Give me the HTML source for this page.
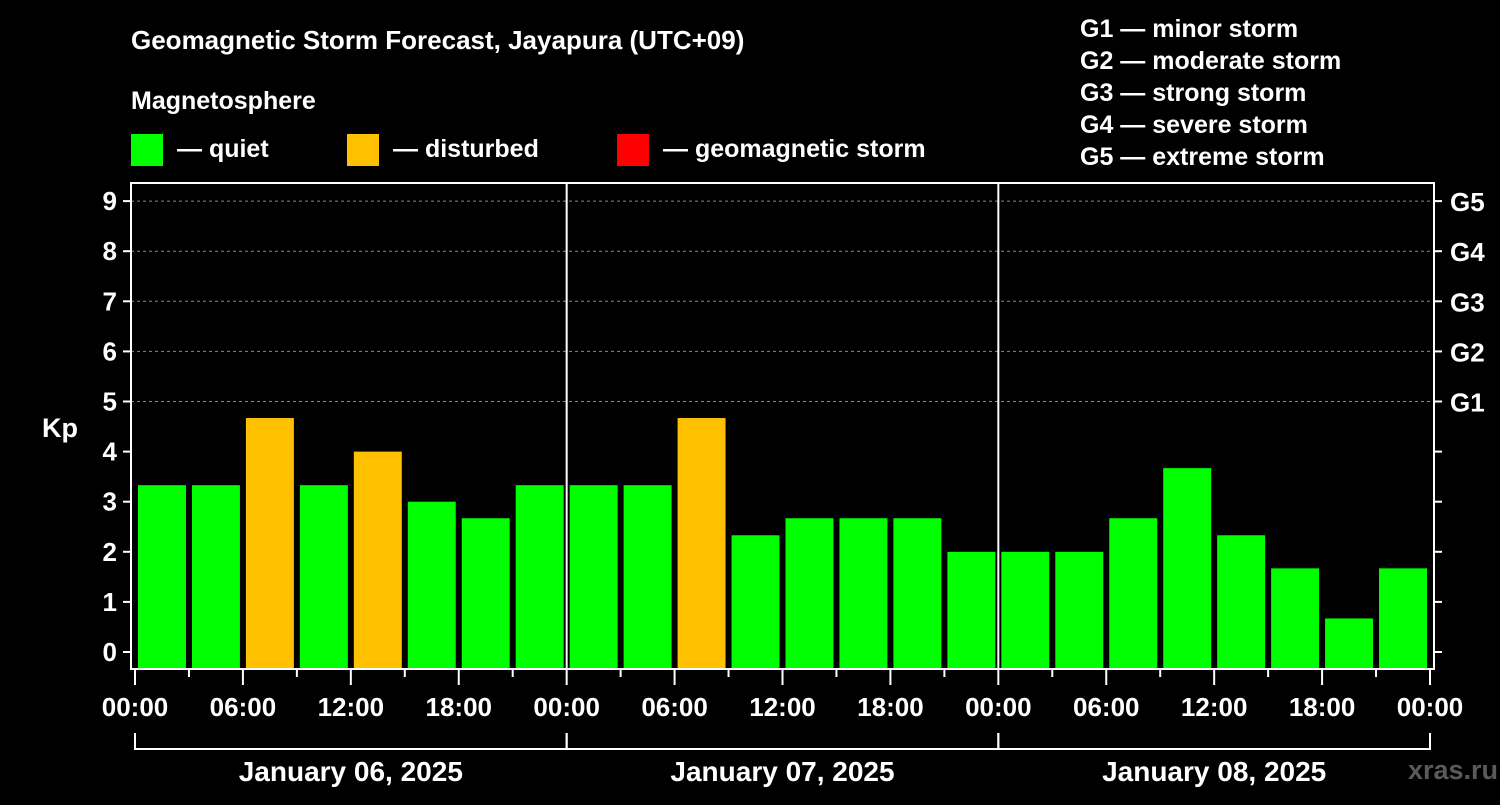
<!DOCTYPE html>
<html><head><meta charset="utf-8"><style>
body{margin:0;background:#000;width:1500px;height:800px;overflow:hidden;font-family:"Liberation Sans",sans-serif}
svg text{font-family:"Liberation Sans",sans-serif;font-weight:bold;fill:#fff}
</style></head><body>
<svg id="c" width="1500" height="800">
<text x="131" y="49" font-size="26">Geomagnetic Storm Forecast, Jayapura (UTC+09)</text>
<text x="131" y="109" font-size="25">Magnetosphere</text>
<g><rect x="131" y="134" width="32" height="32" fill="#00ff00"/><text x="177" y="157" font-size="25">— quiet</text></g>
<g><rect x="347" y="134" width="32" height="32" fill="#ffc000"/><text x="393" y="157" font-size="25">— disturbed</text></g>
<g><rect x="617" y="134" width="32" height="32" fill="#ff0000"/><text x="663" y="157" font-size="25">— geomagnetic storm</text></g>
<g font-size="25">
<text x="1080" y="37">G1 — minor storm</text><text x="1080" y="69">G2 — moderate storm</text><text x="1080" y="101">G3 — strong storm</text><text x="1080" y="133">G4 — severe storm</text><text x="1080" y="165">G5 — extreme storm</text></g>
<text x="42" y="437" font-size="27">Kp</text>
<text x="1498" y="779" font-size="27" text-anchor="end" fill="#555" style="fill:#5a5a5a">xras.ru</text>
<g id="grid"></g><g id="bars"></g><g id="axes"></g>
</svg>
<script>
const kpValues=[3.33,3.33,4.67,3.33,4,3,2.67,3.33, 3.33,3.33,4.67,2.33,2.67,2.67,2.67,2, 2,2,2.67,3.67,2.33,1.67,0.67,1.67];
const yTicks=[0,1,2,3,4,5,6,7,8,9];
const gLabels=["G1","G2","G3","G4","G5"];
const hourLabels=["00:00","06:00","12:00","18:00"];
const dayLabels=["January 06, 2025","January 07, 2025","January 08, 2025"];
const NS="http://www.w3.org/2000/svg";
const X0=135,X1=1430,L=131,R=1434,T=183,B=669;
const y=v=>652-v*50.1;
const x=i=>X0+i*(X1-X0)/kpValues.length;
function mk(tag,at,parent,txt){const e=document.createElementNS(NS,tag);for(const k in at)e.setAttribute(k,at[k]);if(txt!=null)e.textContent=txt;document.getElementById(parent).appendChild(e);return e;}
yTicks.forEach(v=>{
 if(v>=5){const g=mk('line',{x1:L,x2:R,y1:y(v),y2:y(v),stroke:'#888','stroke-dasharray':'3,3','stroke-width':1},'grid');
 
 }
 const t=mk('line',{x1:L-8,x2:L,y1:y(v),y2:y(v),stroke:'#fff','stroke-width':2},'axes');
 
 
 const t2=mk('line',{x1:R,x2:R+8,y1:y(v),y2:y(v),stroke:'#fff','stroke-width':2},'axes');
 
 
 const lb=mk('text',{x:L-14,y:y(v)+9,'font-size':26,'text-anchor':'end'},'axes',String(v));
 
 
});
gLabels.forEach((g,i)=>{const t=mk('text',{x:1450,y:y(5+i)+10,'font-size':26},'axes',g);
 
 });
const step=(X1-X0)/kpValues.length;
kpValues.forEach((v,i)=>{
 const c=v>=5?'#ff0000':(v>=4?'#ffc000':'#00ff00');
 const r=mk('rect',{x:x(i)+3,y:y(v),width:step-6,height:B-y(v),fill:c},'bars');
 
 
});
const fr=mk('rect',{x:L,y:T,width:R-L,height:B-T,fill:'none',stroke:'#fff','stroke-width':2},'axes');


for(let d=1;d<dayLabels.length;d++){const l=mk('line',{x1:x(d*8),x2:x(d*8),y1:T,y2:B,stroke:'#fff','stroke-width':2},'axes');
 
 }
for(let i=0;i<=kpValues.length;i++){
 const major=i%2==0;
 const tk=mk('line',{x1:x(i),x2:x(i),y1:B,y2:B+(major?16:8),stroke:'#fff','stroke-width':2},'axes');
 
 
 if(major){const lb=mk('text',{x:x(i),y:716,'font-size':26,'text-anchor':'middle'},'axes',hourLabels[(i/2)%4]);
 
 }
}
dayLabels.forEach((d,k)=>{
 const a=x(k*8),b=x(k*8+8);
 const br=mk('path',{d:`M${a} 733V749H${b}V733`,fill:'none',stroke:'#fff','stroke-width':2},'axes');
 
 
 const t=mk('text',{x:(a+b)/2,y:781,'font-size':28,'text-anchor':'middle'},'axes',d);
 
 
});
</script>
</body></html>
